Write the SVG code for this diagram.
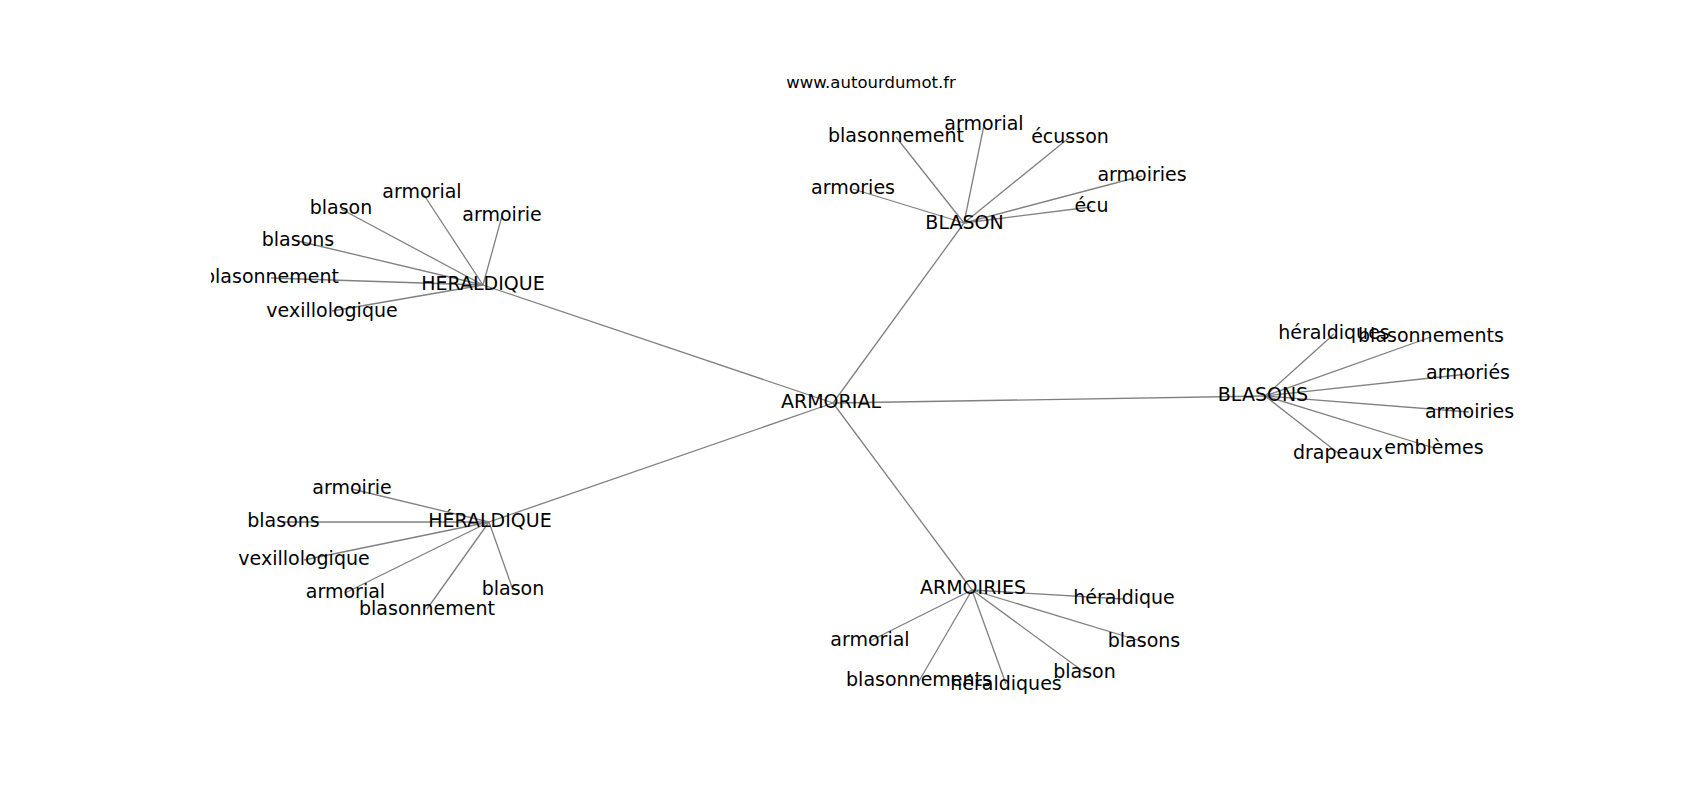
<svg xmlns="http://www.w3.org/2000/svg" width="1700" height="800" viewBox="0 0 1700 800">
<style>
text{font-family:"DejaVu Sans","Liberation Sans",sans-serif;font-size:19px;fill:#000;text-anchor:middle}
.url{font-size:16.5px}
#edges line{stroke:#808080;stroke-width:1.3}
</style>
<defs><clipPath id="ax"><rect x="211" y="0" width="1489" height="800"/></clipPath></defs>
<rect width="1700" height="800" fill="#fff"/>
<text class="url" x="871" y="88">www.autourdumot.fr</text>
<g id="edges">
<line x1="833" y1="403" x2="483" y2="285"/>
<line x1="833" y1="403" x2="964" y2="223"/>
<line x1="833" y1="403" x2="1265" y2="396"/>
<line x1="833" y1="403" x2="972" y2="590"/>
<line x1="833" y1="403" x2="489" y2="522"/>
<line x1="483" y1="285" x2="422" y2="192"/>
<line x1="483" y1="285" x2="341" y2="209"/>
<line x1="483" y1="285" x2="502" y2="216"/>
<line x1="483" y1="285" x2="298" y2="241"/>
<line x1="483" y1="285" x2="271" y2="278"/>
<line x1="483" y1="285" x2="332" y2="311"/>
<line x1="964" y1="223" x2="896" y2="137"/>
<line x1="964" y1="223" x2="984" y2="125"/>
<line x1="964" y1="223" x2="1070" y2="137"/>
<line x1="964" y1="223" x2="1142" y2="176"/>
<line x1="964" y1="223" x2="1091" y2="207"/>
<line x1="964" y1="223" x2="853" y2="189"/>
<line x1="1265" y1="396" x2="1334" y2="334"/>
<line x1="1265" y1="396" x2="1431" y2="337"/>
<line x1="1265" y1="396" x2="1468" y2="374"/>
<line x1="1265" y1="396" x2="1469" y2="412"/>
<line x1="1265" y1="396" x2="1434" y2="448"/>
<line x1="1265" y1="396" x2="1338" y2="453"/>
<line x1="489" y1="522" x2="352" y2="489"/>
<line x1="489" y1="522" x2="283" y2="522"/>
<line x1="489" y1="522" x2="304" y2="560"/>
<line x1="489" y1="522" x2="345" y2="593"/>
<line x1="489" y1="522" x2="513" y2="590"/>
<line x1="489" y1="522" x2="427" y2="609"/>
<line x1="972" y1="590" x2="1124" y2="599"/>
<line x1="972" y1="590" x2="870" y2="641"/>
<line x1="972" y1="590" x2="1144" y2="642"/>
<line x1="972" y1="590" x2="1084" y2="672"/>
<line x1="972" y1="590" x2="919" y2="681"/>
<line x1="972" y1="590" x2="1006" y2="684"/>
</g>
<g id="n-armorial-center"><text x="831" y="407.5">ARMORIAL</text></g>
<g id="n-heraldique-top"><text x="483" y="290">HERALDIQUE</text></g>
<g id="n-blason"><text x="964.5" y="228.5">BLASON</text></g>
<g id="n-blasons"><text x="1263" y="401">BLASONS</text></g>
<g id="n-armoiries"><text x="973" y="594">ARMOIRIES</text></g>
<g id="n-heraldique-bottom"><text x="490" y="527">HÉRALDIQUE</text></g>
<g id="h1-armorial"><text x="422" y="197.5">armorial</text></g>
<g id="h1-blason"><text x="341" y="214">blason</text></g>
<g id="h1-armoirie"><text x="502" y="221">armoirie</text></g>
<g id="h1-blasons"><text x="298" y="246">blasons</text></g>
<g id="h1-blasonnement" clip-path="url(#ax)"><text x="271" y="283">blasonnement</text></g>
<g id="h1-vexillologique"><text x="332" y="316.5">vexillologique</text></g>
<g id="b-blasonnement"><text x="896" y="142">blasonnement</text></g>
<g id="b-armorial"><text x="984" y="130">armorial</text></g>
<g id="b-ecusson"><text x="1070" y="142.5">écusson</text></g>
<g id="b-armoiries"><text x="1142" y="181">armoiries</text></g>
<g id="b-ecu"><text x="1091.5" y="212">écu</text></g>
<g id="b-armories"><text x="853" y="194">armories</text></g>
<g id="bs-heraldiques"><text x="1334" y="339">héraldiques</text></g>
<g id="bs-blasonnements"><text x="1431" y="342">blasonnements</text></g>
<g id="bs-armories"><text x="1468" y="379">armoriés</text></g>
<g id="bs-armoiries"><text x="1469.5" y="417.5">armoiries</text></g>
<g id="bs-emblemes"><text x="1434" y="453.5">emblèmes</text></g>
<g id="bs-drapeaux"><text x="1338" y="458.5">drapeaux</text></g>
<g id="h2-armoirie"><text x="352" y="494">armoirie</text></g>
<g id="h2-blasons"><text x="283.5" y="527">blasons</text></g>
<g id="h2-vexillologique"><text x="304" y="565">vexillologique</text></g>
<g id="h2-armorial"><text x="345.5" y="598">armorial</text></g>
<g id="h2-blason"><text x="513" y="595">blason</text></g>
<g id="h2-blasonnement"><text x="427" y="614.5">blasonnement</text></g>
<g id="a-heraldique"><text x="1124" y="604">héraldique</text></g>
<g id="a-armorial"><text x="870" y="646">armorial</text></g>
<g id="a-blasons"><text x="1144" y="647">blasons</text></g>
<g id="a-blason"><text x="1084.5" y="677.5">blason</text></g>
<g id="a-blasonnements"><text x="919" y="686">blasonnements</text></g>
<g id="a-heraldiques"><text x="1006" y="689.5">héraldiques</text></g>
</svg>
